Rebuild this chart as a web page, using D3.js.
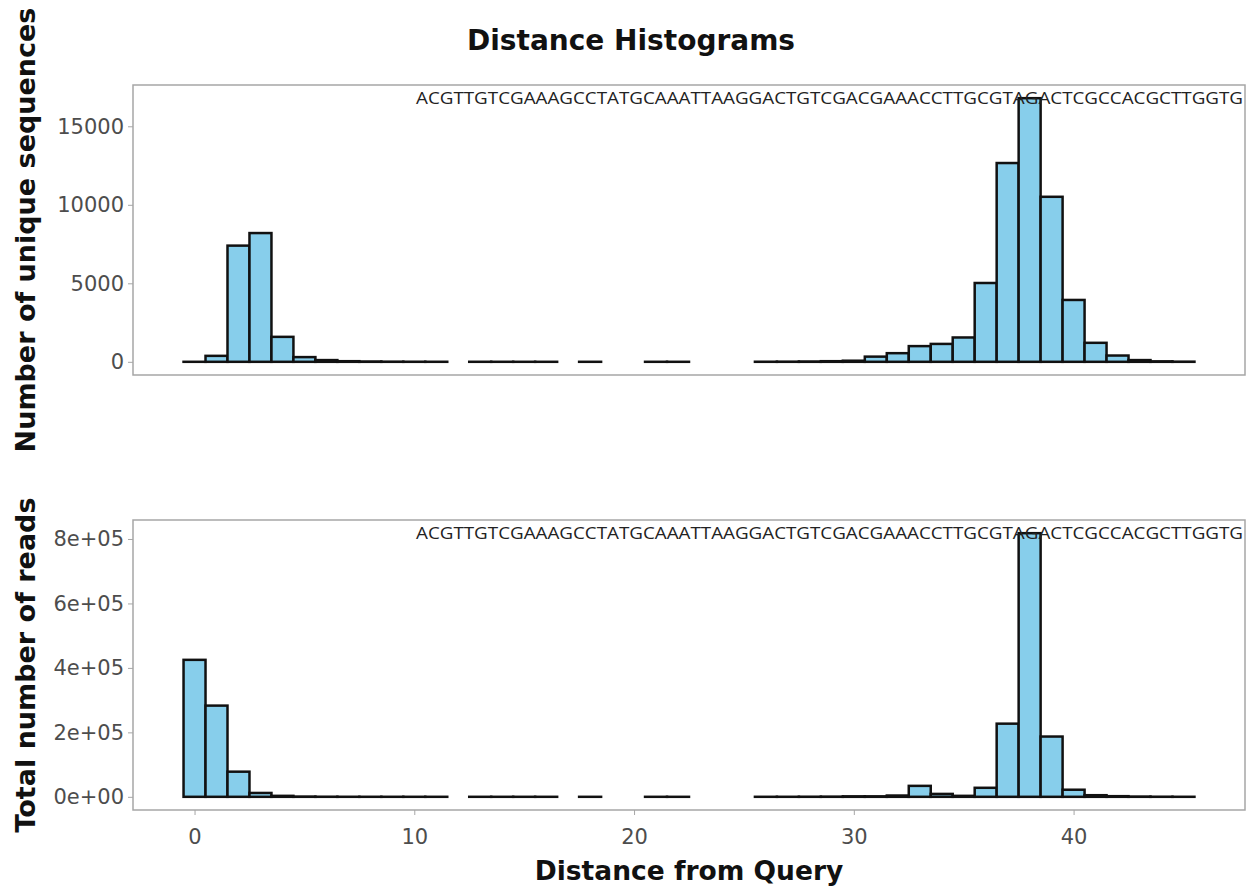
<!DOCTYPE html>
<html>
<head>
<meta charset="utf-8">
<script src="https://cdn.jsdelivr.net/npm/d3@7"></script>
<style>
  body { margin: 0; background: #fff; }
  svg { display: block; }
</style>
</head>
<body>
<div id="chart"></div>
<script>
var width = 1249,
    height = 888;

var query = "ACGTTGTCGAAAGCCTATGCAAATTAAGGACTGTCGACGAAACCTTGCGTAGACTCGCCACGCTTGGTG";

// distances that have at least one sequence (gaps are missing bins)
var distances = [0, 1, 2, 3, 4, 5, 6, 7, 8, 9, 10, 11,
                 13, 14, 15, 16, 18, 21, 22,
                 26, 27, 28, 29, 30, 31, 32, 33, 34, 35,
                 36, 37, 38, 39, 40, 41, 42, 43, 44, 45];

var uniqueSeqs = [1, 380, 7400, 8200, 1590, 300, 110, 40, 20, 10, 5, 3,
                  2, 2, 1, 1, 1, 1, 1,
                  5, 10, 20, 40, 70, 330, 550, 1000, 1140, 1550,
                  5020, 12660, 16790, 10510, 3940, 1210, 400, 110, 30, 10];

var totalReads = [425000, 283000, 78000, 12000, 3000, 800, 300, 150, 100, 80, 60, 50,
                  20, 20, 20, 20, 5, 5, 5,
                  50, 100, 300, 600, 1500, 1500, 4000, 34000, 9000, 3000,
                  28000, 227000, 818000, 187000, 22000, 5000, 2000, 800, 300, 100];

var xTicks = [0, 10, 20, 30, 40];
var topTicks = [0, 5000, 10000, 15000];
var bottomTicks = [0, 200000, 400000, 600000, 800000];

var colors = {
  fill: "#87ceeb",
  stroke: "#111",
  border: "#a6a6a6",
  tick: "#4d4d4d",
  text: "#222"
};

var font = "'DejaVu Sans', Verdana, sans-serif";
var left = 133, right = 1245;

var svg = d3.select("#chart").append("svg")
    .attr("width", width)
    .attr("height", height);

// shared x scale, ggplot style 5% expansion around the bins
var xmin = d3.min(distances) - 0.5, xmax = d3.max(distances) + 0.5;
var xpad = (xmax - xmin) * 0.05;
var x = d3.scaleLinear().domain([xmin - xpad, xmax + xpad]).range([left, right]);

var sci = function(d) {
  if (d === 0) return "0e+00";
  var e = Math.floor(Math.log10(d));
  var m = Math.round(d / Math.pow(10, e));
  return m + "e+" + (e < 10 ? "0" + e : e);
};

var panels = [
  { values: uniqueSeqs, top: 85, bottom: 375, ticks: topTicks, fmt: d3.format("d"),
    title: "Number of unique sequences", textY: 104, id: "p1" },
  { values: totalReads, top: 520, bottom: 810, ticks: bottomTicks, fmt: sci,
    title: "Total number of reads", textY: 539, id: "p2" }
];

panels.forEach(function(p, pi) {
  var ymax = d3.max(p.values);
  var ypad = ymax * 0.05;
  var y = d3.scaleLinear().domain([-ypad, ymax + ypad]).range([p.bottom, p.top]);

  var g = svg.append("g");

  svg.append("clipPath").attr("id", p.id)
    .append("rect")
    .attr("x", left).attr("y", p.top)
    .attr("width", right - left).attr("height", p.bottom - p.top);

  var bins = distances.map(function(d, i) { return { d: d, v: p.values[i] }; });

  g.selectAll("rect.bar")
    .data(bins)
    .enter().append("rect")
    .attr("class", "bar")
    .attr("x", function(b) { return x(b.d - 0.5); })
    .attr("width", function(b) { return x(b.d + 0.5) - x(b.d - 0.5); })
    .attr("y", function(b) { return y(b.v); })
    .attr("height", function(b) { return y(0) - y(b.v); })
    .style("fill", colors.fill)
    .style("stroke", colors.stroke)
    .style("stroke-width", 2.5);

  // query sequence label
  g.append("text")
    .attr("clip-path", "url(#" + p.id + ")")
    .attr("x", 416)
    .attr("y", p.textY)
    .attr("textLength", 827)
    .attr("lengthAdjust", "spacingAndGlyphs")
    .style("font-family", "'Open Sans', sans-serif")
    .style("font-size", "16px")
    .style("fill", colors.text)
    .text(query);

  // panel border
  g.append("rect")
    .attr("x", left).attr("y", p.top)
    .attr("width", right - left).attr("height", p.bottom - p.top)
    .style("fill", "none")
    .style("stroke", colors.border)
    .style("stroke-width", 1.5);

  var yAxis = d3.axisLeft(y).tickValues(p.ticks).tickFormat(p.fmt).tickSize(5).tickPadding(4);
  var ya = svg.append("g").attr("transform", "translate(" + left + ",0)").call(yAxis);
  ya.select(".domain").remove();
  ya.selectAll("line").style("stroke", colors.border);
  ya.selectAll("text")
    .style("font-family", font)
    .style("font-size", "21px")
    .style("fill", colors.tick);

  svg.append("text")
    .attr("transform", "translate(35," + (p.top + p.bottom) / 2 + ") rotate(-90)")
    .attr("text-anchor", "middle")
    .style("font-family", font)
    .style("font-weight", "bold")
    .style("font-size", "27px")
    .style("fill", "#111")
    .text(p.title);

  if (pi === 1) {
    var xAxis = d3.axisBottom(x).tickValues(xTicks).tickFormat(d3.format("d")).tickSize(5).tickPadding(14);
    var xa = svg.append("g").attr("transform", "translate(0," + p.bottom + ")").call(xAxis);
    xa.select(".domain").remove();
    xa.selectAll("line").style("stroke", colors.border);
    xa.selectAll("text")
      .style("font-family", font)
      .style("font-size", "21px")
      .style("fill", colors.tick);
  }
});

svg.append("text")
  .attr("x", 631).attr("y", 50)
  .attr("text-anchor", "middle")
  .style("font-family", font)
  .style("font-weight", "bold")
  .style("font-size", "28px")
  .style("fill", "#111")
  .text("Distance Histograms");

svg.append("text")
  .attr("x", 689).attr("y", 880)
  .attr("text-anchor", "middle")
  .style("font-family", font)
  .style("font-weight", "bold")
  .style("font-size", "26.5px")
  .style("fill", "#111")
  .text("Distance from Query");
</script>
</body>
</html>
